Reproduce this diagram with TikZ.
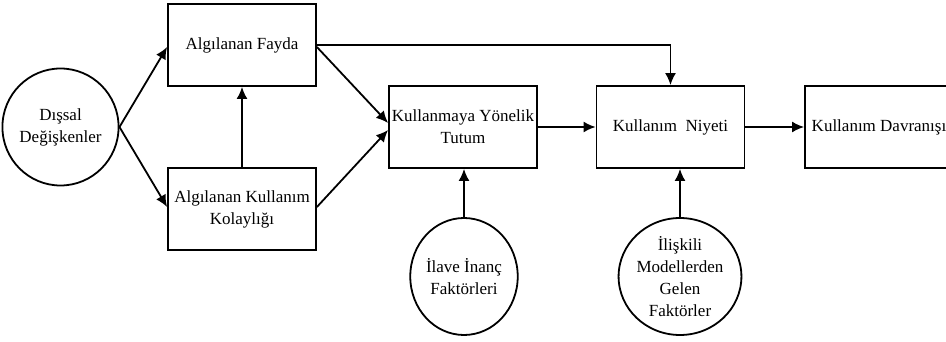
\documentclass[tikz,border=0pt]{standalone}
\usepackage{fontspec}
\setmainfont{Liberation Serif}
\usetikzlibrary{shapes.geometric,arrows.meta}

\begin{document}
\begin{tikzpicture}[x=1pt,y=-1pt,
  every node/.style={font=\rmfamily\fontsize{17}{22}\selectfont, align=center, inner sep=0pt},
  stagebox/.style={draw, line width=1.8pt, minimum width=148pt, minimum height=82pt},
  factor/.style={draw, ellipse, line width=1.8pt, minimum width=105pt, minimum height=117pt},
  link/.style={line width=1.8pt, -{Latex[length=12pt,width=11pt]}}
]
\useasboundingbox (0,0) rectangle (946,342);
\fill[white] (0,0) rectangle (946,342);

% external variables
\node[factor] (dis) at (60.5,127) {Dışsal\\Değişkenler};

% perceived usefulness and ease of use
\node[stagebox] (af)  at (242,45)  {Algılanan Fayda};
\node[stagebox] (akk) at (242,209) {Algılanan Kullanım\\Kolaylığı};

% attitude, intention, behaviour
\node[stagebox] (kyt) at (463,127) {Kullanmaya Yönelik\\Tutum};
\node[stagebox] (kn)  at (670.5,127) {Kullanım\ \ Niyeti};
\node[stagebox] (kd)  at (879,127) {Kullanım Davranışı};

% additional factors
\node[factor] (ilave) at (464,276.5) {İlave İnanç\\Faktörleri};
\node[factor] (ilis)  at (680,276.5) {İlişkili\\Modellerden\\Gelen\\Faktörler};

% connectors
\draw[link] (dis.east) -- ([yshift=-2pt]af.west);
\draw[link] (dis.east) -- ([yshift=2pt]akk.west);
\draw[link] (akk.north) -- (af.south);
\draw[link] ([yshift=-2pt]af.east) -- ([yshift=4pt]kyt.west);
\draw[link] ([yshift=2pt]akk.east) -- ([yshift=-3pt]kyt.west);
\draw[link] (af.east) -| (kn.north);
\draw[link] (kyt.east) -- (kn.west);
\draw[link] (kn.east) -- (kd.west);
\draw[link] (ilave.north) -- (ilave.north |- kyt.south);
\draw[link] (ilis.north) -- (ilis.north |- kn.south);
\end{tikzpicture}
\end{document}
